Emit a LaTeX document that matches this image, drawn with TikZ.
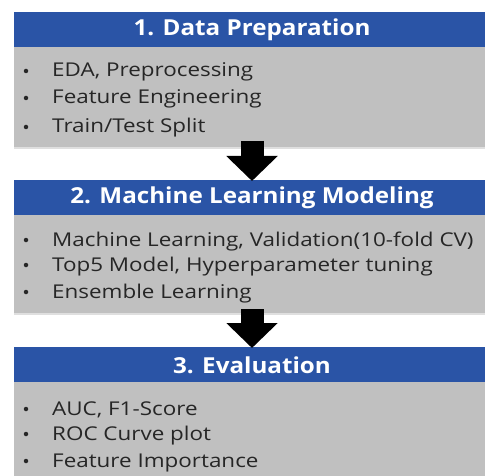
\documentclass[tikz,border=0pt]{standalone}
\usepackage{fontspec}
\setmainfont{Open Sans}
\newfontfamily\hdrfont[FakeStretch=1.1]{Open Sans}
\newfontfamily\itemfont[FakeStretch=1.18]{Open Sans}
\usetikzlibrary{arrows.meta,shadows}
\definecolor{hdrblue}{RGB}{42,84,166}
\definecolor{bodygrey}{RGB}{192,192,192}
\tikzset{
  hdr/.style={fill=hdrblue, draw=none, minimum width=471pt, minimum height=35pt, inner sep=0pt, anchor=north west},
  hdrtext/.style={text=white, inner sep=0pt, font=\hdrfont\fontsize{22pt}{24pt}\selectfont\bfseries},
  body/.style={fill=bodygrey, draw=none, minimum width=471pt, inner sep=0pt, anchor=north west,
    drop shadow={opacity=0.25, shadow xshift=0pt, shadow yshift=-2pt}},
  item/.style={anchor=base west, inner sep=0pt, font=\itemfont\fontsize{19pt}{22pt}\selectfont, text=black!85},
  dot/.style={circle, fill=black!85, inner sep=0pt, minimum size=4.5pt},
  bigarrow/.style={line width=23pt, -{Triangle[width=50pt,length=25pt]}, black}
}
\begin{document}
\begin{tikzpicture}[x=1pt,y=-1pt]
\useasboundingbox[fill=white] (0,0) rectangle (485,476);
% box 1
\node[body, minimum height=100pt] (b1) at (14,47) {};
\node[hdr] (h1) at (14,12) {};
\node[hdrtext] (t1) at (252,30) {1. Data Preparation};
% box 2
\node[body, minimum height=98pt] (b2) at (14,215) {};
\node[hdr] (h2) at (14,180) {};
\node[hdrtext] (t2) at (252,198) {2. Machine Learning Modeling};
% box 3
\node[body, minimum height=100pt] (b3) at (14,382) {};
\node[hdr] (h3) at (14,347) {};
\node[hdrtext] (t3) at (252,365) {3. Evaluation};
% arrows
\coordinate (a1s) at (252,141);
\coordinate (a1e) at (252,181);
\coordinate (a2s) at (252,309);
\coordinate (a2e) at (252,348);
\draw[bigarrow] (a1s) -- (a1e);
\draw[bigarrow] (a2s) -- (a2e);
% items box 1
\node[dot] (d11) at (26,71) {}; \node[item] (i11) at (52,77) {EDA, Preprocessing};
\node[dot] (d12) at (26,98) {}; \node[item] (i12) at (52,104) {Feature Engineering};
\node[dot] (d13) at (26,127) {}; \node[item] (i13) at (52,133) {Train/Test Split};
% items box 2
\node[dot] (d21) at (26,240) {}; \node[item] (i21) at (52,246) {Machine Learning, Validation(10-fold CV)};
\node[dot] (d22) at (26,265) {}; \node[item] (i22) at (52,271) {Top5 Model, Hyperparameter tuning};
\node[dot] (d23) at (26,292) {}; \node[item] (i23) at (52,298) {Ensemble Learning};
% items box 3
\node[dot] (d31) at (26,409) {}; \node[item] (i31) at (52,415) {AUC, F1-Score};
\node[dot] (d32) at (26,434) {}; \node[item] (i32) at (52,440) {ROC Curve plot};
\node[dot] (d33) at (26,461) {}; \node[item] (i33) at (52,467) {Feature Importance};
\end{tikzpicture}
\end{document}
